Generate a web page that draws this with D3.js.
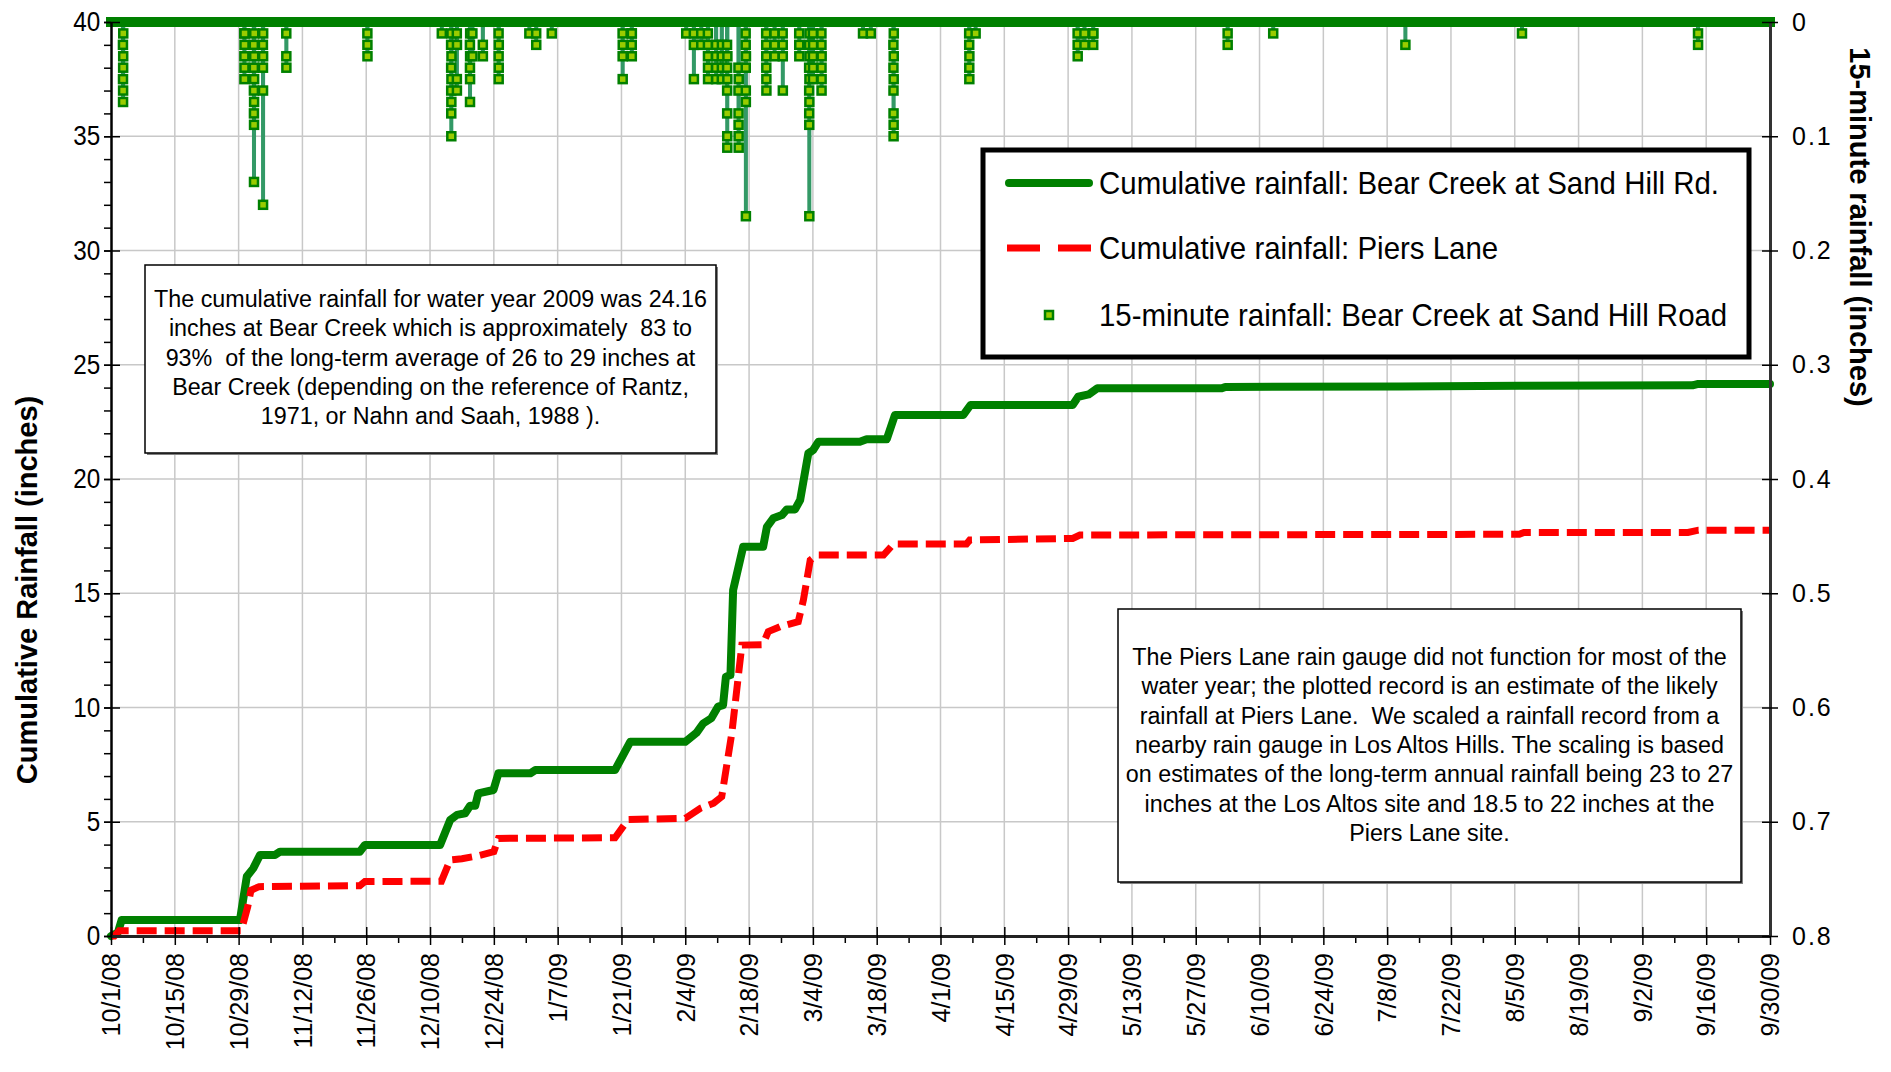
<!DOCTYPE html>
<html>
<head>
<meta charset="utf-8">
<script src="https://cdn.jsdelivr.net/npm/d3@7"></script>
<style>
body { margin: 0; background: #fff; }
text { font-family: "Liberation Sans", Arial, sans-serif; }
</style>
</head>
<body>
<div id="container"></div>
<script>
var width = 1891,
    height = 1072;

// x axis tick labels (every 14 days)
var xTickLabels = ["10/1/08", "10/15/08", "10/29/08", "11/12/08", "11/26/08", "12/10/08", "12/24/08",
    "1/7/09", "1/21/09", "2/4/09", "2/18/09", "3/4/09", "3/18/09", "4/1/09", "4/15/09", "4/29/09",
    "5/13/09", "5/27/09", "6/10/09", "6/24/09", "7/8/09", "7/22/09", "8/5/09", "8/19/09", "9/2/09",
    "9/16/09", "9/30/09"];
var yLeftTicks = [0, 5, 10, 15, 20, 25, 30, 35, 40];
var yRightTicks = [0, 0.1, 0.2, 0.3, 0.4, 0.5, 0.6, 0.7, 0.8];

// cumulative rainfall, Bear Creek at Sand Hill Rd. (inches)
var bearDates = ["2008-10-01 00:00", "2008-10-02 12:00", "2008-10-03 08:00", "2008-10-29 07:00",
    "2008-10-30 19:00", "2008-11-01 05:00", "2008-11-02 17:00", "2008-11-06 00:00", "2008-11-07 02:00",
    "2008-11-24 14:00", "2008-11-25 17:00", "2008-12-12 05:00", "2008-12-14 10:00", "2008-12-15 22:00",
    "2008-12-17 17:00", "2008-12-18 19:00", "2008-12-19 22:00", "2008-12-20 14:00", "2008-12-23 22:00",
    "2008-12-25 00:00", "2009-01-01 00:00", "2009-01-02 02:00", "2009-01-19 14:00", "2009-01-22 22:00",
    "2009-02-04 00:00", "2009-02-06 12:00", "2009-02-07 22:00", "2009-02-09 17:00", "2009-02-11 05:00",
    "2009-02-12 07:00", "2009-02-12 22:00", "2009-02-13 22:00", "2009-02-14 12:00", "2009-02-16 17:00",
    "2009-02-21 02:00", "2009-02-21 22:00", "2009-02-23 07:00", "2009-02-25 05:00", "2009-02-26 07:00",
    "2009-02-28 02:00", "2009-03-01 05:00", "2009-03-03 00:00", "2009-03-04 02:00", "2009-03-05 05:00",
    "2009-03-14 07:00", "2009-03-15 19:00", "2009-03-20 05:00", "2009-03-22 00:00", "2009-04-06 00:00",
    "2009-04-07 14:00", "2009-04-30 00:00", "2009-05-01 05:00", "2009-05-03 12:00", "2009-05-05 10:00",
    "2009-06-01 17:00", "2009-06-02 12:00", "2009-07-11 00:00", "2009-08-06 00:00", "2009-09-13 00:00",
    "2009-09-14 06:00", "2009-09-30 00:00"];
var bearCum = [0, 0.15, 0.7, 0.7,
    2.6, 2.96, 3.55, 3.55, 3.69,
    3.69, 3.98, 3.98, 5.08, 5.3,
    5.37, 5.7, 5.7, 6.24, 6.39,
    7.12, 7.12, 7.26, 7.26, 8.5,
    8.5, 8.9, 9.3, 9.53, 10.04,
    10.1, 11.35, 11.42, 15.14, 17.04,
    17.04, 17.91, 18.28, 18.42, 18.67,
    18.67, 19.08, 21.12, 21.27, 21.63,
    21.63, 21.74, 21.74, 22.8, 22.8,
    23.24, 23.24, 23.6, 23.7, 23.97,
    23.97, 24.03, 24.05, 24.08, 24.1,
    24.16, 24.16];

// cumulative rainfall, Piers Lane (inches)
var piersDates = ["2008-10-01 00:00", "2008-10-01 18:00", "2008-10-02 19:00", "2008-10-29 14:00",
    "2008-10-31 00:00", "2008-10-31 17:00", "2008-11-02 12:00", "2008-11-24 14:00", "2008-11-25 17:00",
    "2008-12-12 12:00", "2008-12-14 10:00", "2008-12-17 00:00", "2008-12-20 07:00", "2008-12-24 00:00",
    "2008-12-25 00:00", "2009-01-19 14:00", "2009-01-22 12:00", "2009-02-04 00:00", "2009-02-07 07:00",
    "2009-02-10 05:00", "2009-02-12 00:00", "2009-02-14 05:00", "2009-02-16 10:00", "2009-02-21 00:00",
    "2009-02-22 05:00", "2009-02-24 19:00", "2009-02-28 19:00", "2009-03-01 22:00", "2009-03-03 10:00",
    "2009-03-04 19:00", "2009-03-19 12:00", "2009-03-21 17:00", "2009-04-06 17:00", "2009-04-07 10:00",
    "2009-04-30 00:00", "2009-05-01 14:00", "2009-08-06 00:00", "2009-08-07 00:00", "2009-09-12 00:00",
    "2009-09-14 07:00", "2009-09-30 00:00"];
var piersCum = [0, 0, 0.23, 0.23,
    1.28, 2.0, 2.16, 2.2, 2.38,
    2.4, 3.33, 3.38, 3.5, 3.69,
    4.27, 4.3, 5.1, 5.15, 5.59,
    5.81, 6.1, 8.87, 12.73, 12.75,
    13.32, 13.54, 13.76, 14.7, 16.45,
    16.67, 16.67, 17.16, 17.16, 17.33,
    17.4, 17.55, 17.58, 17.66, 17.66,
    17.76, 17.76];

// 15-minute rainfall, Bear Creek at Sand Hill Road: start of each wet spell and its consecutive 15-min readings
var burstStarts = ["2008-10-03 15:00", "2008-10-30 06:00", "2008-11-01 08:00", "2008-11-03 08:00",
    "2008-11-08 11:00", "2008-11-26 06:00", "2008-12-12 14:00", "2008-12-14 15:00", "2008-12-15 21:00",
    "2008-12-18 18:00", "2008-12-19 07:00", "2008-12-21 14:00", "2008-12-25 01:00", "2008-12-31 19:00",
    "2009-01-02 07:00", "2009-01-05 17:00", "2009-01-21 06:00", "2009-01-23 06:00", "2009-02-04 05:00",
    "2009-02-05 21:00", "2009-02-07 12:00", "2009-02-08 23:00", "2009-02-10 18:00", "2009-02-12 00:00",
    "2009-02-13 04:00", "2009-02-15 16:00", "2009-02-17 06:00", "2009-02-21 18:00", "2009-02-23 14:00",
    "2009-02-25 09:00", "2009-03-01 00:00", "2009-03-03 04:00", "2009-03-04 00:00", "2009-03-05 21:00",
    "2009-03-15 00:00", "2009-03-16 17:00", "2009-03-21 16:00", "2009-04-07 07:00", "2009-04-08 17:00",
    "2009-05-01 02:00", "2009-05-02 14:00", "2009-05-04 12:00", "2009-06-03 00:00", "2009-06-13 00:00",
    "2009-07-12 00:00", "2009-08-06 14:00", "2009-09-14 05:00"];
var burstValues = [
    [0.02, 0.05, 0.07, 0.06, 0.04, 0.03, 0.01],
    [0.01, 0.03, 0.05, 0.04, 0.02, 0.01],
    [0.02, 0.04, 0.06, 0.08, 0.14, 0.09, 0.07, 0.05, 0.03, 0.01],
    [0.02, 0.04, 0.06, 0.16, 0.03, 0.01],
    [0.01, 0.03, 0.04],
    [0.01, 0.02, 0.03],
    [0.01],
    [0.02, 0.04, 0.06, 0.08, 0.10, 0.07, 0.05, 0.03, 0.01],
    [0.01, 0.05, 0.06, 0.02],
    [0.02, 0.04, 0.07, 0.05, 0.03, 0.01],
    [0.01, 0.03],
    [0.02, 0.03],
    [0.01, 0.03, 0.05, 0.04, 0.02],
    [0.01],
    [0.01, 0.02],
    [0.01],
    [0.01, 0.03, 0.05, 0.02],
    [0.01, 0.02, 0.03, 0.01],
    [0.01],
    [0.01, 0.02, 0.05],
    [0.01, 0.02],
    [0.01, 0.02, 0.03, 0.04, 0.05],
    [0.02, 0.03, 0.04, 0.05],
    [0.03, 0.05, 0.04, 0.02],
    [0.02, 0.04, 0.06, 0.08, 0.10, 0.11, 0.05, 0.03],
    [0.04, 0.06, 0.08, 0.09, 0.10, 0.11, 0.05],
    [0.01, 0.02, 0.04, 0.06, 0.07, 0.17, 0.03],
    [0.01, 0.02, 0.03, 0.04, 0.05, 0.06],
    [0.01, 0.02, 0.03],
    [0.01, 0.02, 0.03, 0.06],
    [0.01, 0.02, 0.03],
    [0.02, 0.04, 0.06, 0.08, 0.09, 0.17, 0.07, 0.05, 0.03, 0.01],
    [0.01, 0.03, 0.05, 0.04, 0.02],
    [0.01, 0.02, 0.04, 0.06, 0.05, 0.03],
    [0.01],
    [0.01],
    [0.02, 0.04, 0.06, 0.08, 0.10, 0.09, 0.05, 0.03, 0.01],
    [0.01, 0.02, 0.04, 0.05, 0.03],
    [0.01],
    [0.01, 0.02, 0.03],
    [0.01, 0.02],
    [0.01, 0.02, 0.01],
    [0.01, 0.02],
    [0.01],
    [0.02],
    [0.01],
    [0.01, 0.02]
];

var legendLabels = ["Cumulative rainfall: Bear Creek at Sand Hill Rd.",
    "Cumulative rainfall: Piers Lane",
    "15-minute rainfall: Bear Creek at Sand Hill Road"];

var note1Lines = ["The cumulative rainfall for water year 2009 was 24.16",
    "inches at Bear Creek which is approximately  83 to",
    "93%  of the long-term average of 26 to 29 inches at",
    "Bear Creek (depending on the reference of Rantz,",
    "1971, or Nahn and Saah, 1988 )."];
var note2Lines = ["The Piers Lane rain gauge did not function for most of the",
    "water year; the plotted record is an estimate of the likely",
    "rainfall at Piers Lane.  We scaled a rainfall record from a",
    "nearby rain gauge in Los Altos Hills. The scaling is based",
    "on estimates of the long-term annual rainfall being 23 to 27",
    "inches at the Los Altos site and 18.5 to 22 inches at the",
    "Piers Lane site."];

var parseTime = d3.timeParse("%Y-%m-%d %H:%M");
var parseTick = d3.timeParse("%m/%d/%y");
var xTicks = xTickLabels.map(parseTick);

var svg = d3.select("#container").append("svg")
    .attr("width", width)
    .attr("height", height)
    .style("background", "#fff");

var x = d3.scaleTime().domain([xTicks[0], xTicks[xTicks.length - 1]]).range([111, 1770]);
var yL = d3.scaleLinear().domain([0, 40]).range([936, 22]);
var yR = d3.scaleLinear().domain([0, 0.8]).range([22, 936]);

// grid
var grid = svg.append("g");
grid.selectAll(".vgrid").data(xTicks.slice(1, -1)).join("line")
    .attr("x1", d => x(d)).attr("x2", d => x(d))
    .attr("y1", yL(40)).attr("y2", yL(0))
    .attr("stroke", "#c8c8c8").attr("stroke-width", 1.5);
grid.selectAll(".hgrid").data(yLeftTicks.slice(1, -1)).join("line")
    .attr("x1", x.range()[0]).attr("x2", x.range()[1])
    .attr("y1", d => yL(d)).attr("y2", d => yL(d))
    .attr("stroke", "#c8c8c8").attr("stroke-width", 1.5);

// note boxes
function noteBox(x0, y0, w, h, lines, top) {
    var g = svg.append("g");
    g.append("rect").attr("x", x0 + 2).attr("y", y0 + 2).attr("width", w).attr("height", h)
        .attr("fill", "#808080");
    g.append("rect").attr("x", x0).attr("y", y0).attr("width", w).attr("height", h)
        .attr("fill", "#fff").attr("stroke", "#000").attr("stroke-width", 1.5);
    g.selectAll("text").data(lines).join("text")
        .attr("x", x0 + w / 2)
        .attr("y", (d, i) => top + i * 29.3)
        .attr("text-anchor", "middle")
        .attr("font-size", 23.3)
        .attr("xml:space", "preserve")
        .style("white-space", "pre")
        .text(d => d);
}
noteBox(145, 265, 571, 188, note1Lines, 307);
noteBox(1118, 609, 623, 273, note2Lines, 665);

// cumulative lines
var lineFn = d3.line().x(d => x(d[0])).y(d => yL(d[1]));
var bearPts = bearDates.map((d, i) => [parseTime(d), bearCum[i]]);
var piersPts = piersDates.map((d, i) => [parseTime(d), piersCum[i]]);

svg.append("path").datum(bearPts)
    .attr("d", lineFn)
    .attr("fill", "none").attr("stroke", "#008000").attr("stroke-width", 8)
    .attr("stroke-linejoin", "round").attr("stroke-linecap", "round");
svg.append("path").datum(piersPts)
    .attr("d", lineFn)
    .attr("fill", "none").attr("stroke", "#ff0000").attr("stroke-width", 7)
    .attr("stroke-dasharray", "20,8");

// 15-minute rainfall (secondary axis, reversed)
var step = 15 * 60 * 1000;
var rain = [];
var spikePts = [[x.domain()[0], 0]];
burstStarts.forEach((s, i) => {
    var t0 = parseTime(s);
    spikePts.push([new Date(+t0 - step), 0]);
    burstValues[i].forEach((v, j) => {
        var t = new Date(+t0 + j * step);
        rain.push({t: t, v: v});
        spikePts.push([t, v]);
    });
    spikePts.push([new Date(+t0 + burstValues[i].length * step), 0]);
});
spikePts.push([x.domain()[1], 0]);

var rainLine = d3.line().x(d => x(d[0])).y(d => yR(d[1]));
svg.append("path").datum(spikePts)
    .attr("d", rainLine)
    .attr("fill", "none").attr("stroke", "#339966").attr("stroke-width", 4)
    .attr("stroke-linejoin", "round");
// dry readings pile up along zero
svg.append("path").datum([[x.domain()[0], 0], [x.domain()[1], 0]])
    .attr("d", rainLine)
    .attr("stroke", "#008000").attr("stroke-width", 10).attr("stroke-linecap", "square");
svg.selectAll(".rainpt").data(rain).join("rect")
    .attr("x", d => x(d.t) - 4).attr("y", d => yR(d.v) - 4)
    .attr("width", 8).attr("height", 8)
    .attr("fill", "#99cc00").attr("stroke", "#008000").attr("stroke-width", 2.5);

// axes
var axL = svg.append("g").attr("transform", "translate(111,0)")
    .call(d3.axisLeft(yL).ticks(40).tickSize(7).tickFormat("").tickSizeOuter(0));
axL.select(".domain").remove();
axL.selectAll("line").attr("stroke", "#000").attr("stroke-width", 1.5);

var axL2 = svg.append("g").attr("transform", "translate(111,0)")
    .call(d3.axisLeft(yL).tickValues(yLeftTicks).tickSize(7).tickPadding(5).tickSizeOuter(0));
axL2.select(".domain").attr("stroke", "#000").attr("stroke-width", 2.5);
axL2.selectAll(".tick line").attr("x1", 9).attr("stroke-width", 1.5);
axL2.selectAll(".tick text").attr("font-size", 27).attr("fill", "#000")
    .attr("font-family", "Liberation Sans, Arial, sans-serif")
    .attr("transform", "scale(0.9,1)");

var axBm = svg.append("g").attr("transform", "translate(0,936)")
    .call(d3.axisBottom(x).tickValues(xTicks.slice(0, -1).map(d => d3.timeDay.offset(d, 7)))
        .tickSize(7).tickFormat("").tickSizeOuter(0));
axBm.select(".domain").remove();
axBm.selectAll("line").attr("stroke", "#000").attr("stroke-width", 1.5);

var axB = svg.append("g").attr("transform", "translate(0,936)")
    .call(d3.axisBottom(x).tickValues(xTicks).tickSize(9).tickSizeOuter(0)
        .tickFormat(d3.timeFormat("%-m/%-d/%y")));
axB.select(".domain").attr("stroke", "#222").attr("stroke-width", 3);
axB.selectAll(".tick line").attr("y1", -9).attr("stroke-width", 1.5);
axB.selectAll(".tick text")
    .attr("transform", "rotate(-90)")
    .attr("text-anchor", "end")
    .attr("x", -17).attr("y", 0).attr("dy", "0.35em")
    .attr("font-size", 25).attr("fill", "#000")
    .attr("font-family", "Liberation Sans, Arial, sans-serif");

var axR = svg.append("g").attr("transform", "translate(1770,0)")
    .call(d3.axisRight(yR).tickValues(yRightTicks).tickSize(8).tickPadding(14).tickSizeOuter(0)
        .tickFormat(d => d === 0 ? "0" : d3.format(".1f")(d)));
axR.select(".domain").attr("stroke", "#333").attr("stroke-width", 3);
axR.selectAll(".tick line").attr("x1", -8).attr("stroke-width", 1.5);
axR.selectAll(".tick text").attr("font-size", 25).attr("fill", "#000")
    .attr("letter-spacing", 2)
    .attr("font-family", "Liberation Sans, Arial, sans-serif");

// axis titles
svg.append("text")
    .attr("transform", "translate(27,590) rotate(-90)")
    .attr("text-anchor", "middle").attr("dy", "0.35em")
    .attr("font-size", 29).attr("font-weight", "bold")
    .text("Cumulative Rainfall (inches)");
svg.append("text")
    .attr("transform", "translate(1860,227) rotate(90)")
    .attr("text-anchor", "middle").attr("dy", "0.35em")
    .attr("font-size", 29).attr("font-weight", "bold")
    .text("15-minute rainfall (inches)");

// legend
var lg = svg.append("g");
lg.append("rect").attr("x", 983).attr("y", 150).attr("width", 766).attr("height", 207)
    .attr("fill", "#fff").attr("stroke", "#000").attr("stroke-width", 5);
var rowY = [183, 248, 315];
lg.append("line").attr("x1", 1009).attr("x2", 1089).attr("y1", rowY[0]).attr("y2", rowY[0])
    .attr("stroke", "#008000").attr("stroke-width", 8).attr("stroke-linecap", "round");
lg.append("line").attr("x1", 1007).attr("x2", 1091).attr("y1", rowY[1]).attr("y2", rowY[1])
    .attr("stroke", "#ff0000").attr("stroke-width", 7).attr("stroke-dasharray", "33,18");
lg.append("rect").attr("x", 1049 - 4).attr("y", rowY[2] - 4).attr("width", 8).attr("height", 8)
    .attr("fill", "#99cc00").attr("stroke", "#008000").attr("stroke-width", 2.5);
lg.selectAll(".lgtext").data(legendLabels).join("text")
    .attr("transform", (d, i) => "translate(1099," + (rowY[i] + 11) + ") scale(0.95,1)")
    .attr("font-size", 31)
    .text(d => d);
</script>
</body>
</html>
